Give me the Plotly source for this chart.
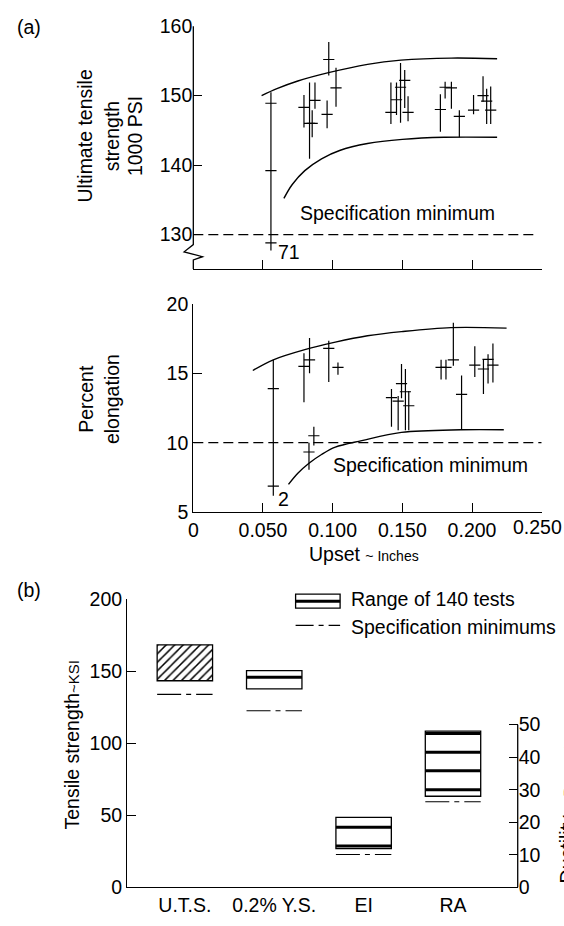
import plotly.graph_objects as go

W, H = 564, 926
FONT = "Liberation Sans, Arial, Helvetica, sans-serif"
FS = 19.5

# ---------------- Panel (a), top: ultimate tensile strength ----------------
uts_x  = [0.0557, 0.0794, 0.0834, 0.0853, 0.0873, 0.0960, 0.0972, 0.1024, 0.1418, 0.1458,
          0.1487, 0.1517, 0.1541, 0.1773, 0.1807, 0.1852, 0.1909, 0.2011, 0.2079, 0.2105, 0.2134]
uts_lo = [127.7, 145.4, 140.9, 144.0, 148.1, 145.3, 152.9, 148.4, 145.9, 147.2,
          146.1, 148.2, 146.3, 144.8, 149.6, 148.1, 144.0, 147.3, 149.1, 145.9, 145.9]
uts_hi = [150.5, 150.1, 151.9, 147.9, 151.9, 149.3, 157.7, 154.0, 151.9, 151.9,
          154.7, 153.7, 149.9, 150.2, 152.0, 152.0, 147.9, 150.1, 152.8, 151.0, 151.3]
uts_mark_x = [0.0557, 0.0557, 0.0557, 0.0794, 0.0834, 0.0853, 0.0873, 0.0960, 0.0972, 0.1024,
              0.1418, 0.1458, 0.1487, 0.1517, 0.1541, 0.1773, 0.1807, 0.1852, 0.1909, 0.2011,
              0.2079, 0.2105, 0.2134]
uts_mark_y = [148.9, 139.2, 128.8, 148.3, 146.0, 146.0, 149.3, 147.3, 155.2, 151.1,
              147.6, 149.4, 151.2, 152.2, 147.6, 148.0, 151.2, 151.1, 147.0, 147.9,
              150.0, 149.2, 147.9]
uts_env_hi_x = [0.049, 0.060, 0.075, 0.097, 0.125, 0.149, 0.185, 0.218]
uts_env_hi_y = [150.0, 151.0, 152.1, 153.3, 154.5, 155.1, 155.4, 155.3]
uts_env_lo_x = [0.065, 0.071, 0.080, 0.092, 0.105, 0.125, 0.150, 0.180, 0.218]
uts_env_lo_y = [135.2, 137.2, 139.2, 140.9, 142.1, 143.1, 143.7, 144.0, 144.0]
uts_spec = 130
uts_spec_end = 0.246
uts_ticks = [130, 140, 150, 160]

# ---------------- Panel (a), bottom: percent elongation ----------------
el_x  = [0.0574, 0.0794, 0.0834, 0.0972, 0.1038, 0.0830, 0.0865, 0.1422, 0.1470, 0.1494,
         0.1522, 0.1546, 0.1778, 0.1813, 0.1866, 0.1925, 0.2020, 0.2082, 0.2115, 0.2150]
el_lo = [6.17, 12.92, 15.0, 14.37, 14.89, 8.05, 9.8, 11.14, 10.9, 13.2,
         10.9, 10.9, 14.56, 14.56, 15.55, 10.93, 14.73, 13.5, 14.26, 14.33]
el_hi = [15.97, 16.44, 17.54, 17.35, 15.78, 10.0, 11.14, 13.86, 13.37, 15.66,
         15.31, 13.72, 15.97, 15.97, 18.64, 14.84, 16.95, 15.97, 16.37, 17.14]
el_mark_x = [0.0574, 0.0574, 0.0794, 0.0834, 0.0972, 0.1038, 0.0830, 0.0865, 0.1422, 0.1470,
             0.1494, 0.1522, 0.1546, 0.1778, 0.1813, 0.1866, 0.1925, 0.2020, 0.2082, 0.2115, 0.2150]
el_mark_y = [13.9, 6.87, 15.5, 15.97, 16.79, 15.43, 9.33, 10.5, 13.25, 13.0,
             14.26, 13.67, 12.66, 15.43, 15.43, 15.97, 13.48, 15.59, 15.31, 16.0, 15.59]
el_env_hi_x = [0.0427, 0.0574, 0.080, 0.1019, 0.125, 0.1494, 0.1849, 0.2248]
el_env_hi_y = [15.2, 15.97, 16.7, 17.24, 17.7, 18.0, 18.29, 18.25]
el_env_lo_x = [0.0683, 0.0750, 0.0830, 0.0920, 0.1019, 0.1209, 0.1494, 0.1920, 0.2228]
el_env_lo_y = [7.0, 7.8, 8.52, 9.15, 9.68, 10.15, 10.74, 10.93, 10.93]
el_spec = 10
el_spec_end = 0.25
el_ticks = [5, 10, 15, 20]

upset_ticks = [0, 0.05, 0.10, 0.15, 0.20, 0.25]
upset_ticktext = ["0", "0.050", "0.100", "0.150", "0.200", "0.250"]

# ---------------- Panel (b): range of 140 tests ----------------
cats = ["U.T.S.", "0.2% Y.S.", "EI", "RA"]
box_lo = [143.3, 137.7, 11.9, 28.0]
box_hi = [168.2, 150.3, 21.5, 48.0]
box_on_right = [False, False, True, True]   # EI and RA read on the ductility (percent) axis
box_inner = [[], [145.8], [18.5, 12.7], [47.3, 41.5, 35.8, 30.0]]
spec_min = [133.8, 122.5, 10.1, 26.3]
ksi_ticks = [0, 50, 100, 150, 200]
pct_ticks = [0, 10, 20, 30, 40, 50]

# ---------------- layout geometry (pixels) ----------------
def px(x):
    return x / W

def py(y):
    return 1 - y / H

XA = (190, 541.5)
YA1 = (264.3, 15.5)     # bottom, top
YA2 = (513.3, 300.0)
XB = (123.3, 517.3)
YB = (897.7, 602.3)
y1_range = [125.04, 160]
y2_range = [5, 20]
xb_range = [-0.645, 3.724]
yb_range = [0, 200]
yr_range = [0, 88.6]
box_half = 0.31

def vsegs(xs, lo, hi):
    xx, yy = [], []
    for x, a, b in zip(xs, lo, hi):
        xx += [x, x, None]
        yy += [a, b, None]
    return xx, yy

def hsegs(cx, vals, half):
    xx, yy = [], []
    for c, v in zip(cx, vals):
        xx += [c - half, c + half, None]
        yy += [v, v, None]
    return xx, yy

fig = go.Figure()
LW = 1.3

# panel a top
xx, yy = vsegs(uts_x, uts_lo, uts_hi)
fig.add_trace(go.Scatter(x=xx, y=yy, mode="lines", line=dict(color="black", width=1.2),
                         xaxis="x", yaxis="y", hoverinfo="skip"))
fig.add_trace(go.Scatter(x=uts_mark_x, y=uts_mark_y, mode="markers",
                         marker=dict(symbol="line-ew", size=8, line=dict(color="black", width=1.2)),
                         xaxis="x", yaxis="y"))
for ex, ey in [(uts_env_hi_x, uts_env_hi_y), (uts_env_lo_x, uts_env_lo_y)]:
    fig.add_trace(go.Scatter(x=ex, y=ey, mode="lines", line=dict(color="black", width=1.4, shape="spline"),
                             xaxis="x", yaxis="y"))
fig.add_trace(go.Scatter(x=[0, uts_spec_end], y=[uts_spec, uts_spec], mode="lines",
                         line=dict(color="black", width=1.2, dash="10px,5px"), xaxis="x", yaxis="y"))

# panel a bottom
xx, yy = vsegs(el_x, el_lo, el_hi)
fig.add_trace(go.Scatter(x=xx, y=yy, mode="lines", line=dict(color="black", width=1.2),
                         xaxis="x2", yaxis="y2"))
fig.add_trace(go.Scatter(x=el_mark_x, y=el_mark_y, mode="markers",
                         marker=dict(symbol="line-ew", size=8, line=dict(color="black", width=1.2)),
                         xaxis="x2", yaxis="y2"))
for ex, ey in [(el_env_hi_x, el_env_hi_y), (el_env_lo_x, el_env_lo_y)]:
    fig.add_trace(go.Scatter(x=ex, y=ey, mode="lines", line=dict(color="black", width=1.4, shape="spline"),
                             xaxis="x2", yaxis="y2"))
fig.add_trace(go.Scatter(x=[0, el_spec_end], y=[el_spec, el_spec], mode="lines",
                         line=dict(color="black", width=1.2, dash="10px,5px"), xaxis="x2", yaxis="y2"))

# panel b
pos = list(range(len(cats)))
for right in (False, True):
    idx = [i for i in pos if box_on_right[i] == right]
    ya = "y4" if right else "y3"
    fig.add_trace(go.Bar(
        x=[pos[i] for i in idx], base=[box_lo[i] for i in idx],
        y=[box_hi[i] - box_lo[i] for i in idx],
        width=2 * box_half, offset=-box_half, xaxis="x3", yaxis=ya,
        marker=dict(color="white", line=dict(color="black", width=LW),
                    pattern=dict(shape=["/" if cats[i] == "U.T.S." else "" for i in idx],
                                 fgcolor="black", bgcolor="white", fgopacity=1,
                                 size=6, solidity=0.25))))
    cx, vv = [], []
    for i in idx:
        for v in box_inner[i]:
            cx.append(pos[i]); vv.append(v)
    xx, yy = hsegs(cx, vv, box_half)
    fig.add_trace(go.Scatter(x=xx, y=yy, mode="lines", line=dict(color="black", width=3),
                             xaxis="x3", yaxis=ya))
    xx, yy = hsegs([pos[i] for i in idx], [spec_min[i] for i in idx], box_half)
    fig.add_trace(go.Scatter(x=xx, y=yy, mode="lines",
                             line=dict(color="black", width=1.2, dash="24px,5px,5px,5px"),
                             xaxis="x3", yaxis=ya))

ax_common = dict(showgrid=False, zeroline=False, linecolor="black", linewidth=LW,
                 tickcolor="black", tickwidth=LW, ticklen=9, ticks="inside",
                 tickfont=dict(family=FONT, size=FS, color="black"))

# the last upset label sits at the very edge of the figure; it is written as an annotation below
edge_label = upset_ticktext[-1]
xt2_text = upset_ticktext[:-1] + [""]

fig.update_layout(
    width=W, height=H, margin=dict(l=0, r=0, t=0, b=0),
    paper_bgcolor="white", plot_bgcolor="white", showlegend=False, barmode="overlay",
    font=dict(family=FONT, size=FS, color="black"),
    xaxis=dict(domain=[px(XA[0]), px(XA[1])], range=[0, 0.25], anchor="y", showline=True,
               tickvals=upset_ticks[1:], showticklabels=False, **ax_common),
    yaxis=dict(domain=[py(YA1[0]), py(YA1[1])], range=y1_range, anchor="x", showline=False,
               tickvals=uts_ticks, **ax_common),
    xaxis2=dict(domain=[px(XA[0]), px(XA[1])], range=[0, 0.25], anchor="y2", showline=True,
                tickvals=upset_ticks, ticktext=xt2_text, **ax_common),
    yaxis2=dict(domain=[py(YA2[0]), py(YA2[1])], range=y2_range, anchor="x2", showline=True,
                tickvals=el_ticks, **ax_common),
    xaxis3=dict(domain=[px(XB[0]), px(XB[1])], range=xb_range, anchor="y3", showline=True,
                tickvals=pos, ticktext=cats, **{**ax_common, "ticks": ""}),
    yaxis3=dict(domain=[py(YB[0]), py(YB[1])], range=yb_range, anchor="x3", showline=True,
                tickvals=ksi_ticks, **ax_common),
    yaxis4=dict(range=yr_range, overlaying="y3", side="right", anchor="x3", showline=False,
                tickvals=pct_ticks, **ax_common),
)

# axis line with break for top panel, right ductility axis line, legend
def y4_to_py(v):
    return YB[0] - (v - yr_range[0]) / (yr_range[1] - yr_range[0]) * (YB[0] - YB[1])

zig = [(190, 15.5), (190, 239.3), (180.7, 246.7), (199.3, 251.7), (190, 255.0), (190, 264.3)]
path = "M " + " L ".join(f"{px(a):.5f},{py(b):.5f}" for a, b in zig)
shapes = [
    dict(type="path", path=path, xref="paper", yref="paper", line=dict(color="black", width=LW)),
    dict(type="line", xref="paper", yref="paper", x0=px(XB[1]), x1=px(XB[1]),
         y0=py(y4_to_py(0)), y1=py(y4_to_py(50)), line=dict(color="black", width=LW)),
    dict(type="rect", xref="paper", yref="paper", x0=px(293.2), x1=px(338.1), y0=py(611.7), y1=py(597.3),
         line=dict(color="black", width=LW), fillcolor="white"),
    dict(type="line", xref="paper", yref="paper", x0=px(293.2), x1=px(338.1), y0=py(604.5), y1=py(604.5),
         line=dict(color="black", width=3)),
    dict(type="line", xref="paper", yref="paper", x0=px(293.2), x1=px(338.1), y0=py(629.3), y1=py(629.3),
         line=dict(color="black", width=1.2, dash="18px,5px,5px,5px")),
]
fig.update_layout(shapes=shapes)

def ann(text, x, y, xref="paper", yref="paper", angle=0, xanchor="center", size=FS):
    if xref == "paper":
        x = px(x)
    if yref == "paper":
        y = py(y)
    fig.add_annotation(text=text, x=x, y=y, xref=xref, yref=yref, showarrow=False,
                       textangle=angle, xanchor=xanchor, yanchor="middle",
                       font=dict(family=FONT, size=size, color="black"))

small = "<span style='font-size:14px'>{}</span>"
ann("(a)", 24, 16)
ann("(b)", 24, 593)
ann("Ultimate tensile", 81, 128.3, angle=-90)
ann("strength", 108, 128.3, angle=-90)
ann("1000 PSI", 131, 128.3, angle=-90)
ann("Percent", 81.5, 397.5, angle=-90)
ann("elongation", 108, 397.5, angle=-90)
ann(edge_label, 564, 528.3, xanchor="right")
ann("Upset " + small.format("~ Inches"), 362.5, 556)
ann("Tensile strength" + "<span style='font-size:15px'>~KSI</span>", 67.5, 751.5, angle=-90)
ann("Ductility " + "<span style='font-size:15px'>~ Percent</span>", 567, 822, angle=-90)
ann("Range of 140 tests", 347, 602.7, xanchor="left")
ann("Specification minimums", 347, 630.7, xanchor="left")
ann("Specification minimum", 0.1465, 133.1, xref="x", yref="y")
ann("Specification minimum", 0.1705, 8.4, xref="x2", yref="y2")
ann("71", 0.069, 127.5, xref="x", yref="y")
ann("2", 0.065, 5.94, xref="x2", yref="y2")

fig.write_html("out.html")
